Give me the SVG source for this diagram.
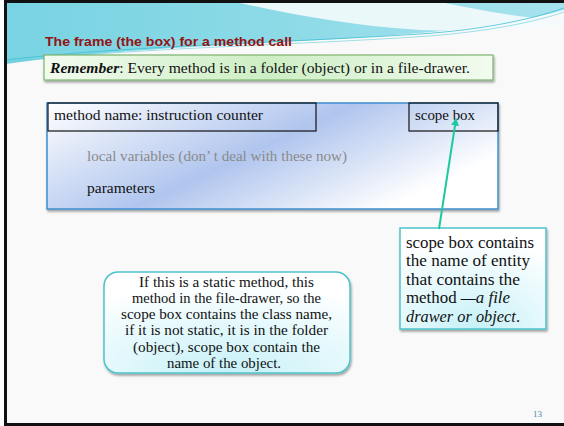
<svg xmlns="http://www.w3.org/2000/svg" width="564" height="426" viewBox="0 0 564 426">
<defs>
<linearGradient id="wave" x1="0" y1="0" x2="1" y2="0">
<stop offset="0" stop-color="#78d3e2"/>
<stop offset="0.5" stop-color="#8ddae7"/>
<stop offset="1" stop-color="#a6e3ee"/>
</linearGradient>
<linearGradient id="green" x1="0" y1="0" x2="1" y2="0">
<stop offset="0" stop-color="#f2fbef"/>
<stop offset="0.5" stop-color="#cdeec4"/>
<stop offset="1" stop-color="#f2fbef"/>
</linearGradient>
<linearGradient id="frame" x1="0" y1="0" x2="1" y2="0.5">
<stop offset="0" stop-color="#ffffff"/>
<stop offset="0.55" stop-color="#b0c5ee"/>
<stop offset="1" stop-color="#ffffff"/>
</linearGradient>
<radialGradient id="callout" cx="0.5" cy="1" r="0.9">
<stop offset="0" stop-color="#c6f1f8"/>
<stop offset="1" stop-color="#ffffff"/>
</radialGradient>
<filter id="shadow" x="-10%" y="-10%" width="120%" height="130%">
<feDropShadow dx="1" dy="2" stdDeviation="1.2" flood-color="#000" flood-opacity="0.35"/>
</filter>
<marker id="arr" viewBox="0 0 6 6" refX="5" refY="3" markerWidth="4" markerHeight="4" orient="auto">
<path d="M0,0 L6,3 L0,6 Z" fill="#1ec9a0"/>
</marker>
<style>
.serif{font-family:"Liberation Serif","DejaVu Serif",serif;}
.box{fill:none;stroke:#111;stroke-width:1.2;}
</style>
</defs>

<!-- slide background -->
<rect x="0" y="0" width="564" height="426" fill="#ffffff"/>
<rect x="6" y="2" width="560" height="422" fill="#f9f9f9"/>

<!-- header wave -->
<g id="header">
<path d="M6,2 H564 V10 C500,28 420,34 320,40 C200,46 90,52 6,64 Z" fill="url(#wave)"/>
<path d="M235,2 H440 C480,10 520,18 564,20 V24 C520,30 470,32 420,30 C350,26 290,14 235,2 Z" fill="#f4fbfc" opacity="0.9"/>
<path d="M6,60 C120,46 300,42 420,34 C480,30 530,20 564,8" fill="none" stroke="#3fbfd4" stroke-width="0.8"/>
<path d="M6,62 C130,48 300,45 430,36 C490,31 535,22 564,12" fill="none" stroke="#5ecbdc" stroke-width="0.6"/>
</g>

<!-- slide border -->
<rect x="5.5" y="1.5" width="570" height="423" fill="none" stroke="#111" stroke-width="3"/>

<g id="title">
<text x="45" y="46" font-family="'Liberation Sans','DejaVu Sans',sans-serif" font-weight="bold" font-size="13" fill="#931414" textLength="247" lengthAdjust="spacingAndGlyphs">The frame (the box) for a method call</text>
</g>

<g id="remember">
<rect x="44" y="55" width="449" height="25" fill="url(#green)" stroke="#7cb46e" stroke-width="1.2" filter="url(#shadow)"/>
<text x="50" y="73" class="serif" font-size="15.5" fill="#111" textLength="420" lengthAdjust="spacingAndGlyphs"><tspan font-weight="bold" font-style="italic">Remember</tspan>: Every method is in a folder (object) or in a file-drawer.</text>
</g>

<g id="frame">
<rect x="47" y="103" width="451" height="106" fill="url(#frame)" stroke="#3c8fd0" stroke-width="1.5" filter="url(#shadow)"/>
<text x="87" y="161" class="serif" font-size="14" fill="#8a8a8a" textLength="260" lengthAdjust="spacingAndGlyphs">local variables (don’ t deal with these now)</text>
<text x="87" y="193" class="serif" font-size="14" fill="#111" textLength="68" lengthAdjust="spacingAndGlyphs">parameters</text>
</g>

<g id="method-name">
<rect class="box" x="48" y="103" width="268" height="28"/>
<text x="54" y="119.5" class="serif" font-size="14.5" fill="#111" textLength="209" lengthAdjust="spacingAndGlyphs">method name: instruction counter</text>
</g>

<g id="scope-box">
<rect class="box" x="409" y="103" width="89" height="28"/>
<text x="415" y="119.5" class="serif" font-size="14.5" fill="#111" textLength="60" lengthAdjust="spacingAndGlyphs">scope box</text>
</g>

<g id="scope-note">
<rect x="400" y="228" width="146" height="101" fill="url(#callout)" stroke="#4cc3cc" stroke-width="1.5" filter="url(#shadow)"/>
<g class="serif" font-size="16.5" fill="#111">
<text x="406" y="247.5" textLength="128" lengthAdjust="spacingAndGlyphs">scope box contains</text>
<text x="406" y="266" textLength="124" lengthAdjust="spacingAndGlyphs">the name of entity</text>
<text x="406" y="284.5" textLength="114" lengthAdjust="spacingAndGlyphs">that contains the</text>
<text x="406" y="303" textLength="104" lengthAdjust="spacingAndGlyphs">method <tspan font-style="italic">—a file</tspan></text>
<text x="406" y="321.5" textLength="114" lengthAdjust="spacingAndGlyphs"><tspan font-style="italic">drawer or object</tspan>.</text>
</g>
</g>

<g id="static-note">
<rect x="104" y="272" width="246" height="101" rx="14" ry="14" fill="url(#callout)" stroke="#4cc3cc" stroke-width="1.5" filter="url(#shadow)"/>
<g class="serif" font-size="14.5" fill="#111" text-anchor="middle">
<text x="226.5" y="286.5" textLength="175" lengthAdjust="spacingAndGlyphs">If this is a static method, this</text>
<text x="226.5" y="302.5" textLength="189" lengthAdjust="spacingAndGlyphs">method in the file-drawer, so the</text>
<text x="226.5" y="318.5" textLength="211" lengthAdjust="spacingAndGlyphs">scope box contains the class name,</text>
<text x="226.5" y="335" textLength="203" lengthAdjust="spacingAndGlyphs">if it is not static, it is in the folder</text>
<text x="226.5" y="351.5" textLength="187" lengthAdjust="spacingAndGlyphs">(object), scope box contain the</text>
<text x="224" y="367.5" textLength="114" lengthAdjust="spacingAndGlyphs">name of the object.</text>
</g>
</g>

<g id="connectors">
<line x1="439" y1="229" x2="456" y2="119" stroke="#1ec9a0" stroke-width="2" marker-end="url(#arr)"/>
</g>

<g id="page">
<text x="533" y="417" class="serif" font-size="9" fill="#3f8aa6">13</text>
</g>
</svg>
